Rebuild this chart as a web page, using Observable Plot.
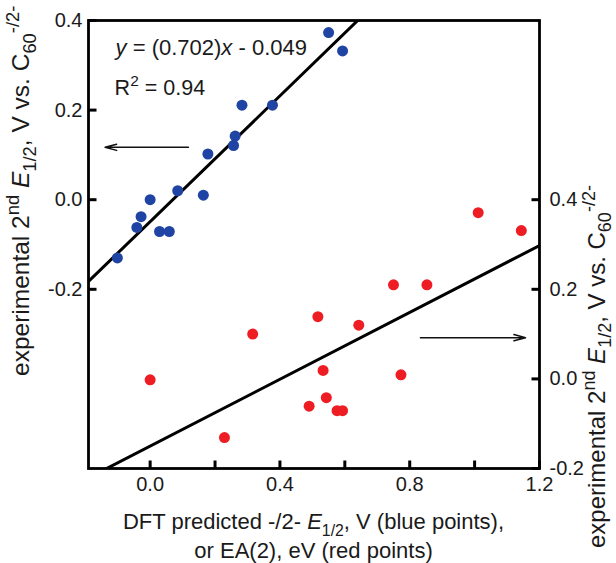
<!DOCTYPE html>
<html>
<head>
<meta charset="utf-8">
<script src="https://cdn.jsdelivr.net/npm/d3@7"></script>
<script src="https://cdn.jsdelivr.net/npm/@observablehq/plot@0.6"></script>
<style>
  body { margin: 0; background: #fff; }
  #chart svg { font-family: "Liberation Sans", Arial, Helvetica, sans-serif; }
</style>
</head>
<body>
<div id="chart"></div>
<script>
// ---- data ----
// blue points: DFT predicted -/2- E1/2 (V) vs experimental 2nd E1/2 (left axis)
const blueX = [-0.101, -0.041, -0.028, 0.000, 0.029, 0.059, 0.085, 0.164, 0.178, 0.257, 0.262, 0.283, 0.377, 0.550, 0.593];
const blueY = [-0.130, -0.062, -0.038, 0.000, -0.071, -0.071, 0.020, 0.010, 0.102, 0.121, 0.142, 0.211, 0.211, 0.373, 0.332];
// red points: EA(2) (eV) vs experimental 2nd E1/2 (right axis)
const redX = [0.000, 0.229, 0.316, 0.490, 0.517, 0.533, 0.543, 0.576, 0.593, 0.643, 0.750, 0.773, 0.853, 1.011, 1.144];
const redY = [-0.002, -0.131, 0.100, -0.061, 0.139, 0.019, -0.042, -0.071, -0.071, 0.120, 0.210, 0.009, 0.210, 0.371, 0.331];

// linear fits (slope, intercept)
const blueFit = [0.702, -0.049];
const redFit = [0.373, -0.150];

// axes
const xDomain = [-0.19, 1.2];
const leftDomain = [-0.6, 0.4];
const rightOffset = 0.4;            // right-axis value = left-axis value + 0.4
const xTicks = [0.0, 0.2, 0.4, 0.6, 0.8, 1.0, 1.2];
const xTickLabels = ["0.0", "", "0.4", "", "0.8", "", "1.2"];
const leftTicks = [0.4, 0.2, 0.0, -0.2];
const rightTicks = [0.4, 0.2, 0.0, -0.2];

// arrows (data units of x and left y)
const arrowX1 = [0.118, 0.833];
const arrowX2 = [-0.139, 1.157];
const arrowY = [0.117, -0.308];

// text annotations (data units, baseline)
const eqPos = [-0.105, 0.322];
const r2Pos = [-0.108, 0.2326];

// ---- build ----
const blue = blueX.map((x, i) => ({x, y: blueY[i]}));
const red = redX.map((x, i) => ({x, y: redY[i] - rightOffset}));
const fitLine = ([s, b], off) => xDomain.map(x => ({x, y: s * x + b - off}));
const arrows = arrowX1.map((x1, i) => ({x1, x2: arrowX2[i], y: arrowY[i]}));
const rightTicksL = rightTicks.map(v => v - rightOffset);

const font = "Liberation Sans, Arial, Helvetica, sans-serif";
const fmt = d => d.toFixed(1);
const TS = 8;   // inward tick length (px)
const tickShape = {draw(context, l) { context.moveTo(0, 0); context.lineTo(0, -l); }};
const tickOpts = {length: TS, anchor: "start", shape: tickShape, stroke: "#000", strokeWidth: 3, strokeLinecap: "butt"};

const plot = Plot.plot({
  width: 616,
  height: 563,
  marginLeft: 88,
  marginRight: 77,
  marginTop: 20,
  marginBottom: 95,
  x: {domain: xDomain, label: null},
  y: {domain: leftDomain, label: null},
  style: {fontFamily: font, fontSize: "20px", color: "#1a1a1a", background: "#fff"},
  marks: [
    Plot.line(fitLine(blueFit, 0), {x: "x", y: "y", stroke: "#000", strokeWidth: 3, clip: true}),
    Plot.line(fitLine(redFit, rightOffset), {x: "x", y: "y", stroke: "#000", strokeWidth: 3, clip: true}),
    Plot.dot(blue, {x: "x", y: "y", r: 5.5, fill: "#1f44a3"}),
    Plot.dot(red, {x: "x", y: "y", r: 5.5, fill: "#ee1d24"}),
    Plot.arrow(arrows, {x1: "x1", x2: "x2", y1: "y", y2: "y", stroke: "#111", strokeWidth: 1.5, headLength: 12, headAngle: 30}),
    // inward ticks
    Plot.vector(xTicks, {x: d => d, y: leftDomain[0], rotate: 0, ...tickOpts}),
    Plot.vector(leftTicks, {x: xDomain[0], y: d => d, rotate: 90, ...tickOpts}),
    Plot.vector(rightTicksL, {x: xDomain[1], y: d => d, rotate: -90, ...tickOpts}),
    Plot.frame({stroke: "#000", strokeWidth: 2.8}),
    // tick labels
    Plot.axisY(leftTicks, {anchor: "left", tickSize: 0, tickPadding: 6, fontSize: 20, tickFormat: fmt, label: null}),
    Plot.axisY(rightTicksL, {anchor: "right", tickSize: 0, tickPadding: 10, fontSize: 20, tickFormat: d => fmt(d + rightOffset), label: null}),
    Plot.axisX(xTicks, {anchor: "bottom", tickSize: 0, tickPadding: 8, fontSize: 20, tickFormat: d => xTickLabels[xTicks.indexOf(d)], label: null})
  ]
});

document.getElementById("chart").appendChild(plot);

// ---- rich-text titles and annotations, positioned through the plot's scales ----
const sx = plot.scale("x"), sy = plot.scale("y");
const X = d3.scaleLinear(sx.domain, sx.range);
const Y = d3.scaleLinear(sy.domain, sy.range);
const svg = d3.select(plot);

function rich(g, parts, size, anchor, subScale = 0.72, subShift = 0.33) {
  const t = g.append("text").attr("font-size", size).attr("fill", "#1a1a1a")
    .attr("font-family", font).attr("text-anchor", anchor);
  let shift = 0;
  for (const p of parts) {
    const target = p.sub ? size * subShift : p.sup ? -size * 0.42 : 0;
    const ts = t.append("tspan").text(p.t);
    if (p.sub || p.sup) ts.attr("font-size", size * subScale);
    if (p.it) ts.attr("font-style", "italic");
    if (target !== shift) { ts.attr("dy", target - shift); shift = target; }
  }
  return t;
}

const E12 = [{t: "E", it: true}, {t: "1/2", sub: true}];
const yTitle = [{t: "experimental 2"}, {t: "nd", sup: true}, {t: " "}, ...E12, {t: ", V vs. C"}, {t: "60", sub: true}, {t: "-/2-", sup: true}];

const g = svg.append("g");
// left axis title (reads bottom to top)
rich(g.append("g").attr("transform", "translate(29,376) rotate(-90)"), yTitle, 24.5, "start", 0.75, 0.28);
// right axis title
rich(g.append("g").attr("transform", "translate(605,548) rotate(-90)"), yTitle, 24, "start", 0.75, 0.24);
// x axis title
const xc = (X(xDomain[0]) + X(xDomain[1])) / 2;
rich(g.append("g").attr("transform", `translate(${xc},529)`),
  [{t: "DFT predicted -/2- "}, ...E12, {t: ", V (blue points),"}], 22, "middle");
rich(g.append("g").attr("transform", `translate(${xc},558)`),
  [{t: "or EA(2), eV (red points)"}], 22, "middle");

// equation and R^2
rich(g.append("g").attr("transform", `translate(${X(eqPos[0])},${Y(eqPos[1])})`),
  [{t: "y", it: true}, {t: " = (0.702)"}, {t: "x", it: true}, {t: " - 0.049"}], 22, "start");
rich(g.append("g").attr("transform", `translate(${X(r2Pos[0])},${Y(r2Pos[1])})`),
  [{t: "R"}, {t: "2", sup: true}, {t: " = 0.94"}], 21.5, "start");
</script>
</body>
</html>
